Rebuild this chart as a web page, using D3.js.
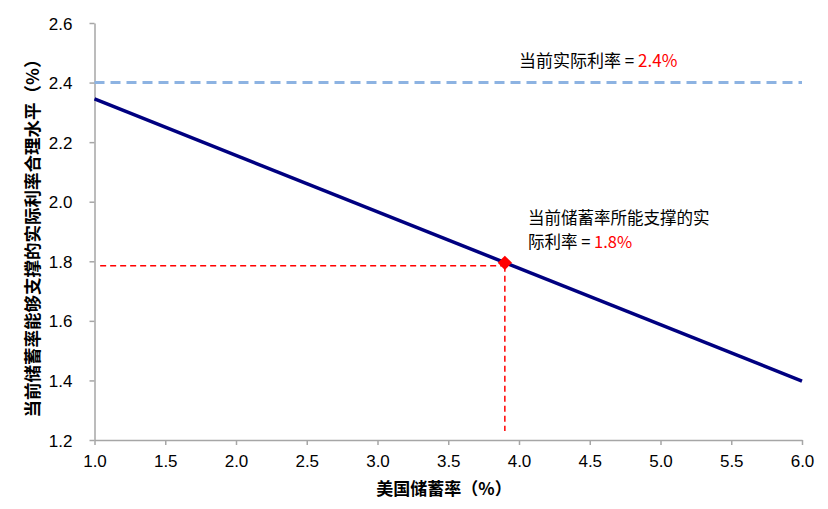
<!DOCTYPE html>
<html>
<head>
<meta charset="utf-8">
<script src="https://cdn.jsdelivr.net/npm/d3@7"></script>
<style>
  body { margin: 0; background: #fff; }
  text { font-family: "Liberation Sans", Arial, "Noto Sans CJK SC", sans-serif; }
</style>
</head>
<body>
<svg id="chart" width="828" height="509"></svg>
<script>
// savings rate vs. supported real rate
const lineX = [1.0, 6.0];
const lineY = [2.345, 1.398];
const currentRate = 2.4;
const point = { x: 3.9, y: 1.795 };
const guideY = 1.785;
const guideFloor = 1.23;
const guideStart = 1.04;
const xTicks = [1.0, 1.5, 2.0, 2.5, 3.0, 3.5, 4.0, 4.5, 5.0, 5.5, 6.0];
const yTicks = [1.2, 1.4, 1.6, 1.8, 2.0, 2.2, 2.4, 2.6];

const svg = d3.select('#chart');
const cjk = '"Noto Sans CJK SC", "Liberation Sans", sans-serif';

const x = d3.scaleLinear().domain([1, 6]).range([94.5, 802]);
const y = d3.scaleLinear().domain([1.2, 2.6]).range([440, 23]);

// axes
const xAxis = svg.append('g').attr('transform', 'translate(0,440)')
  .call(d3.axisBottom(x).tickValues(xTicks).tickFormat(d3.format('.1f')).tickSize(5).tickSizeOuter(0));
const yAxis = svg.append('g').attr('transform', 'translate(94.5,0)')
  .call(d3.axisLeft(y).tickValues(yTicks).tickFormat(d3.format('.1f')).tickSize(5).tickSizeOuter(0));

[xAxis, yAxis].forEach(function(ax) {
  ax.select('.domain').attr('stroke', '#a6a6a6').attr('stroke-width', 1.5);
  ax.selectAll('.tick line').attr('stroke', '#a6a6a6').attr('stroke-width', 1.5);
  ax.selectAll('.tick text').attr('fill', '#000').style('font-size', '17px')
    .style('font-family', '"Liberation Sans", Arial, sans-serif');
});
xAxis.selectAll('.tick text').attr('dy', '1.1em');
yAxis.selectAll('.tick text').attr('x', -22).attr('dy', '0.36em');

// current rate line
svg.append('line')
  .attr('x1', x(1)).attr('x2', x(6))
  .attr('y1', y(currentRate)).attr('y2', y(currentRate))
  .attr('stroke', '#8db3e2').attr('stroke-width', 3)
  .attr('stroke-dasharray', '10,6');

// red guides
svg.append('line')
  .attr('x1', x(guideStart)).attr('x2', x(point.x))
  .attr('y1', y(guideY)).attr('y2', y(guideY))
  .attr('stroke', '#ff0000').attr('stroke-width', 1.5)
  .attr('stroke-dasharray', '6,4');
svg.append('line')
  .attr('x1', x(point.x)).attr('x2', x(point.x))
  .attr('y1', y(guideY)).attr('y2', y(guideFloor))
  .attr('stroke', '#ff0000').attr('stroke-width', 1.5)
  .attr('stroke-dasharray', '6,4');

// main line
svg.append('path')
  .datum(lineX.map((d, i) => [d, lineY[i]]))
  .attr('fill', 'none')
  .attr('stroke', '#000080')
  .attr('stroke-width', 3.5)
  .attr('d', d3.line().x(d => x(d[0])).y(d => y(d[1])));

// marker
svg.append('path')
  .attr('d', d3.symbol().type(d3.symbolDiamond2).size(130))
  .attr('transform', `translate(${x(point.x)},${y(point.y)})`)
  .attr('fill', '#ff0000');

// annotations
const t1 = svg.append('text').attr('x', 519).attr('y', 67)
  .style('font-size', '17px').style('font-family', cjk);
t1.append('tspan').attr('fill', '#000').text('当前实际利率 = ');
t1.append('tspan').attr('fill', '#ff0000').text('2.4%');

const t2 = svg.append('text').attr('x', 528).attr('y', 224)
  .style('font-size', '16.5px').style('font-family', cjk);
t2.append('tspan').attr('fill', '#000').text('当前储蓄率所能支撑的实');
const t3 = svg.append('text').attr('x', 528).attr('y', 248)
  .style('font-size', '16.5px').style('font-family', cjk);
t3.append('tspan').attr('fill', '#000').text('际利率 = ');
t3.append('tspan').attr('fill', '#ff0000').text('1.8%');

// axis titles
svg.append('text')
  .attr('transform', 'translate(39,234) rotate(-90)')
  .attr('text-anchor', 'middle')
  .style('font-size', '17.5px').style('font-weight', 'bold').style('font-family', cjk)
  .text('当前储蓄率能够支撑的实际利率合理水平（%）');

svg.append('text')
  .attr('x', 444).attr('y', 495)
  .attr('text-anchor', 'middle')
  .style('font-size', '17px').style('font-weight', 'bold').style('font-family', cjk)
  .text('美国储蓄率（%）');
</script>
</body>
</html>
